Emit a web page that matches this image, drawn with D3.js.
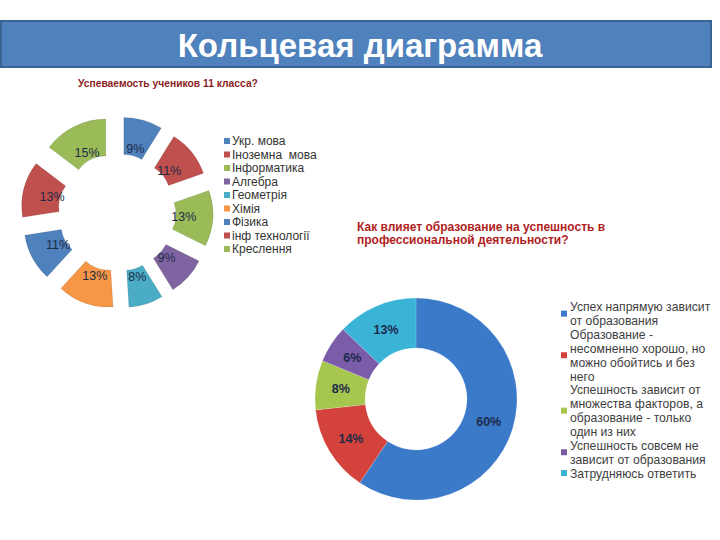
<!DOCTYPE html>
<html><head><meta charset="utf-8">
<script src="https://cdn.jsdelivr.net/npm/d3@7"></script>
<style>body{margin:0;background:#fff;} svg{display:block;} text{white-space:pre;}</style>
</head><body>
<svg id="c" width="720" height="540"></svg>
<script>
const mainTitle = "Кольцевая диаграмма";

const leftTitle = "Успеваемость учеников 11 класса?";
const leftCategories = ["Укр. мова","Іноземна  мова","Інформатика","Алгебра","Геометрія","Хімія","Фізика","інф технології","Креслення"];
const leftValues = [9, 11, 13, 9, 8, 13, 11, 13, 15];
const leftColors = ["#4F81BD","#C0504D","#9BBB59","#8064A2","#4BACC6","#F79646","#4F81BD","#C0504D","#9BBB59"];

const rightTitle = ["Как влияет образование на успешность в","профессиональной деятельности?"];
const rightValues = [60, 14, 8, 6, 13];
const rightLegend = [
  ["Успех напрямую зависит","от образования"],
  ["Образование -","несомненно хорошо, но","можно обойтись и без","него"],
  ["Успешность зависит от","множества факторов, а","образование - только","один из них"],
  ["Успешность совсем не","зависит от образования"],
  ["Затрудняюсь ответить"]
];
const rightColors = ["#3B7AC9","#D3423B","#A6C64D","#7B5CA9","#3BB3D7"];

const svg = d3.select("#c");
const FF = "Liberation Sans, Arial, sans-serif";

// Title bar
svg.append("rect").attr("x",1).attr("y",21).attr("width",710).attr("height",46)
  .attr("fill","#4F81BD").attr("stroke","#3A6394").attr("stroke-width",2);
svg.append("text").attr("x",360).attr("y",57).attr("text-anchor","middle")
  .attr("font-family",FF).attr("font-weight","bold")
  .attr("font-size",33).attr("fill","#fff").text(mainTitle);

// Left chart
svg.append("text").attr("x",78).attr("y",87).attr("font-family",FF)
  .attr("font-weight","bold").attr("font-size",10.3).attr("fill","#8B1E1E").text(leftTitle);

const lc = {x:117, y:212.5}, lR = 71, lr = 34, lOff = 25, lLab = 42;
const lpie = d3.pie().sort(null).value(d=>d)(leftValues);
const larc = d3.arc().innerRadius(lr).outerRadius(lR);
const lg = svg.append("g").attr("transform",`translate(${lc.x},${lc.y})`);
const ls = lg.selectAll("g.s").data(lpie).enter().append("g")
  .attr("transform", d=>{const a=(d.startAngle+d.endAngle)/2; return `translate(${lOff*Math.sin(a)},${-lOff*Math.cos(a)})`;});
ls.append("path").attr("d",larc).attr("fill",(d,i)=>leftColors[i]).attr("stroke","rgba(0,0,0,0.12)").attr("stroke-width",0.8);
ls.append("text").attr("x",d=>{const a=(d.startAngle+d.endAngle)/2; return lLab*Math.sin(a);})
  .attr("y",d=>{const a=(d.startAngle+d.endAngle)/2; return -lLab*Math.cos(a)+4.5;})
  .attr("text-anchor","middle").attr("font-family",FF).attr("font-size",12.5)
  .attr("fill","#1E2B45").text(d=>d.data+"%");

// Left legend
const lleg = svg.append("g");
leftCategories.forEach((c,i)=>{
  const y = 141 + i*13.5;
  lleg.append("rect").attr("x",224).attr("y",y-3).attr("width",6).attr("height",6).attr("fill",leftColors[i]);
  lleg.append("text").attr("x",232).attr("y",y+4.2).attr("font-family",FF)
    .attr("font-size",12).attr("fill","#333").text(c);
});

// Right chart title
rightTitle.forEach((t,i)=>{
  svg.append("text").attr("x",357).attr("y",231+i*13).attr("font-family",FF)
    .attr("font-weight","bold").attr("font-size",12).attr("fill","#B01E1E").text(t);
});

// Right donut
const rc = {x:416, y:399}, rR = 101, rr = 51, rLab = 76;
const rpie = d3.pie().sort(null).value(d=>d)(rightValues);
const rarc = d3.arc().innerRadius(rr).outerRadius(rR);
const rg = svg.append("g").attr("transform",`translate(${rc.x},${rc.y})`);
rg.selectAll("path").data(rpie).enter().append("path").attr("d",rarc)
  .attr("fill",(d,i)=>rightColors[i]).attr("stroke","rgba(255,255,255,0.25)").attr("stroke-width",0.6);
rg.selectAll("text").data(rpie).enter().append("text")
  .attr("x",d=>{const a=(d.startAngle+d.endAngle)/2; return rLab*Math.sin(a);})
  .attr("y",d=>{const a=(d.startAngle+d.endAngle)/2; return -rLab*Math.cos(a)+4.5;})
  .attr("text-anchor","middle").attr("font-family",FF).attr("font-weight","bold")
  .attr("font-size",12.5).attr("fill","#1B2A4A").text(d=>d.data+"%");

// Right legend
const rleg = svg.append("g");
let line = 0; const ly0 = 306.7, lh = 13.86;
rightLegend.forEach((lines,i)=>{
  const yc = ly0 + (line + (lines.length-1)/2)*lh;
  rleg.append("rect").attr("x",561).attr("y",yc-3).attr("width",6).attr("height",6).attr("fill",rightColors[i]);
  lines.forEach((t,j)=>{
    rleg.append("text").attr("x",570).attr("y",ly0+(line+j)*lh+4.5).attr("font-family",FF)
      .attr("font-size",12.2).attr("fill","#404040").text(t);
  });
  line += lines.length;
});
</script>
</body></html>
